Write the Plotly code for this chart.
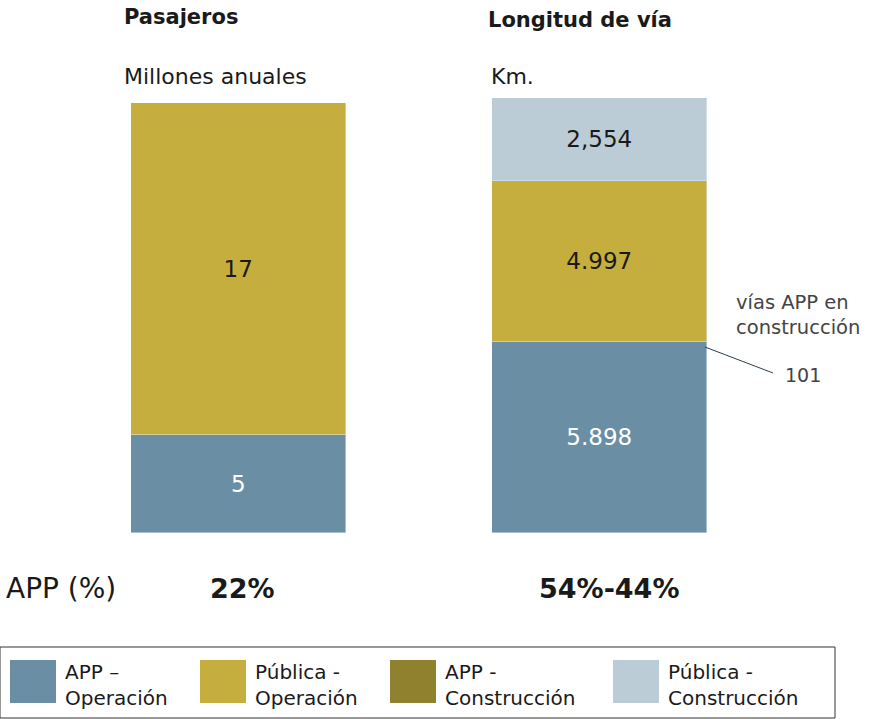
import plotly.graph_objects as go

W, H = 875, 719

# ---- data ----
pas_categories = ["Pasajeros"]
pas_app_op = [5]
pas_pub_op = [17]
pas_labels_app = ["5"]
pas_labels_pub = ["17"]

km_categories = ["Longitud de vía"]
km_app_op = [5898]
km_pub_op = [4997]
km_pub_con = [2554]
km_app_con = 101
km_labels_app = ["5.898"]
km_labels_pub = ["4.997"]
km_labels_pubcon = ["2,554"]

app_pct = ["22%", "54%-44%"]

legend_names = ["APP –<br>Operación", "Pública -<br>Operación", "APP -<br>Construcción", "Pública -<br>Construcción"]

C_APP = "#6A8FA5"
C_PUB = "#C5AE3E"
C_APPC = "#8F812E"
C_PUBC = "#BBCCD6"
TXT = "#1a1a1a"
FONT = "DejaVu Sans"


def px(x):
    return x / W


def py(y):
    return 1 - y / H


fig = go.Figure()

tf_dark = dict(family=FONT, size=23, color=TXT)
tf_white = dict(family=FONT, size=23, color="white")

fig.add_trace(go.Bar(x=pas_categories, y=pas_app_op, marker_color=C_APP, text=pas_labels_app,
                     textposition="inside", insidetextanchor="middle", textfont=tf_white,
                     width=1, xaxis="x", yaxis="y", hoverinfo="skip"))
fig.add_trace(go.Bar(x=pas_categories, y=pas_pub_op, marker_color=C_PUB, text=pas_labels_pub,
                     textposition="inside", insidetextanchor="middle", textfont=tf_dark,
                     width=1, xaxis="x", yaxis="y", hoverinfo="skip"))

fig.add_trace(go.Bar(x=km_categories, y=km_app_op, marker_color=C_APP, text=km_labels_app,
                     textposition="inside", insidetextanchor="middle", textfont=tf_white,
                     width=1, xaxis="x2", yaxis="y2", hoverinfo="skip"))
fig.add_trace(go.Bar(x=km_categories, y=km_pub_op, marker_color=C_PUB, text=km_labels_pub,
                     textposition="inside", insidetextanchor="middle", textfont=tf_dark,
                     width=1, xaxis="x2", yaxis="y2", hoverinfo="skip"))
fig.add_trace(go.Bar(x=km_categories, y=km_pub_con, marker_color=C_PUBC, text=km_labels_pubcon,
                     textposition="inside", insidetextanchor="middle", textfont=tf_dark,
                     width=1, xaxis="x2", yaxis="y2", hoverinfo="skip"))

pas_total = pas_app_op[0] + pas_pub_op[0]
km_total = km_app_op[0] + km_pub_op[0] + km_pub_con[0]

axis_off = dict(visible=False, showgrid=False, zeroline=False, fixedrange=True)
fig.update_layout(
    width=W, height=H,
    margin=dict(l=0, r=0, t=0, b=0),
    paper_bgcolor="white", plot_bgcolor="white",
    barmode="stack", bargap=0, showlegend=False,
    font=dict(family=FONT, color=TXT),
    xaxis=dict(domain=[px(131), px(346)], range=[-0.5, 0.5], **axis_off),
    yaxis=dict(domain=[py(533), py(103)], range=[0, pas_total], **axis_off),
    xaxis2=dict(domain=[px(492), px(707)], range=[-0.5, 0.5], anchor="y2", **axis_off),
    yaxis2=dict(domain=[py(533), py(98)], range=[0, km_total], anchor="x2", **axis_off),
)

ann = []


def text(x, y, s, size, bold=False, color=TXT, xanchor="left"):
    ann.append(dict(x=px(x), y=py(y), xref="paper", yref="paper", text=f"<b>{s}</b>" if bold else s,
                    showarrow=False, xanchor=xanchor, yanchor="middle",
                    font=dict(family=FONT, size=size, color=color)))


text(122, 17, "Pasajeros", 21, bold=True)
text(486, 20, "Longitud de vía", 21, bold=True)
text(122, 77, "Millones anuales", 22)
text(489, 77, "Km.", 22)
text(734, 303, "vías APP en", 19.5, color="#444444")
text(734, 328, "construcción", 19.5, color="#444444")
text(783, 375, str(km_app_con), 19, color="#444444")
text(4, 588, "APP (%)", 28)
text(243, 588, app_pct[0], 27, bold=True, xanchor="center")
text(609, 588, app_pct[1], 27, bold=True, xanchor="center")

shapes = [
    dict(type="line", xref="paper", yref="paper", x0=px(705), y0=py(347), x1=px(773), y1=py(373),
         line=dict(color="#2b3f4f", width=1)),
    dict(type="rect", xref="paper", yref="paper", x0=px(0), y0=py(647), x1=px(835), y1=py(718),
         line=dict(color="#333333", width=1), fillcolor="rgba(0,0,0,0)"),
]

leg_colors = [C_APP, C_PUB, C_APPC, C_PUBC]
sq_x = [10, 200, 390, 613]
for c, x0, name in zip(leg_colors, sq_x, legend_names):
    shapes.append(dict(type="rect", xref="paper", yref="paper", x0=px(x0), x1=px(x0 + 46),
                       y0=py(703), y1=py(660), fillcolor=c, line=dict(width=0)))
    ann.append(dict(x=px(x0 + 53), y=py(685), xref="paper", yref="paper", text=name,
                    showarrow=False, xanchor="left", yanchor="middle", align="left",
                    font=dict(family=FONT, size=20, color=TXT)))

fig.update_layout(annotations=ann, shapes=shapes)

fig.write_html("out.html")
